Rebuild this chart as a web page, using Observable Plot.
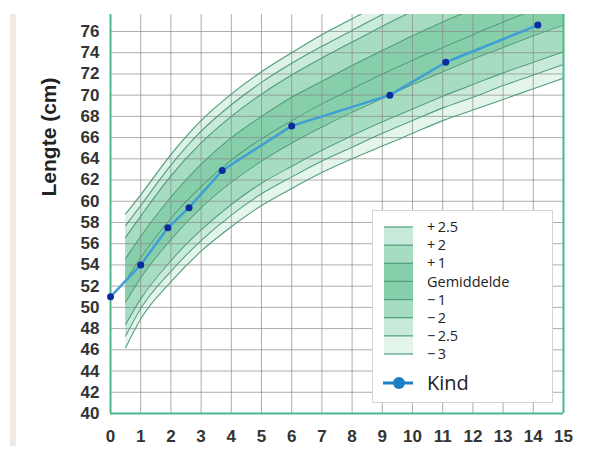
<!DOCTYPE html>
<html>
<head>
<meta charset="utf-8">
<script src="https://cdn.jsdelivr.net/npm/d3@7"></script>
<script src="https://cdn.jsdelivr.net/npm/@observablehq/plot@0.6"></script>
<style>
  html, body { margin: 0; padding: 0; background: #fff; }
  #wrap { position: relative; width: 602px; height: 450px; overflow: hidden; background: #fff; }
  #stripe { position: absolute; left: 10px; top: 14px; width: 6px; height: 432px; background: #efeae6; }
  #ytitle { position: absolute; left: 49px; top: 137px; transform: translate(-50%, -50%) rotate(-90deg);
            font: bold 21px "Liberation Sans", Arial, sans-serif; color: #222; white-space: nowrap; }
  #legend { position: absolute; left: 372px; top: 210px; width: 181px; height: 193px; background: #fff;
            border: 1px solid #d4d4d4; box-sizing: border-box; }
</style>
</head>
<body>
<div id="wrap">
  <div id="chart"></div>
  <div id="stripe"></div>
  <div id="ytitle">Lengte (cm)</div>
  <div id="legend"></div>
</div>
<script>
// ---- data ----
const months = [0.5, 1, 2, 3, 4, 5, 6, 7, 8, 9, 10, 11, 12, 13, 14, 15];
const sdMin3  = [46.2, 48.9, 52.4, 55.3, 57.6, 59.6, 61.2, 62.7, 64.0, 65.2, 66.4, 67.6, 68.6, 69.6, 70.6, 71.6];
const sdMin25 = [47.3, 49.9, 53.4, 56.3, 58.7, 60.7, 62.3, 63.8, 65.1, 66.4, 67.6, 68.8, 69.8, 70.9, 71.9, 72.9];
const sdMin2  = [48.4, 50.8, 54.4, 57.3, 59.7, 61.7, 63.3, 64.8, 66.2, 67.5, 68.7, 69.9, 71.0, 72.1, 73.1, 74.1];
const sdMin1  = [50.5, 52.8, 56.4, 59.4, 61.8, 63.8, 65.5, 67.0, 68.4, 69.7, 71.0, 72.2, 73.4, 74.5, 75.6, 76.6];
const sdMean  = [52.5, 54.7, 58.4, 61.4, 63.9, 65.9, 67.6, 69.2, 70.6, 72.0, 73.3, 74.5, 75.7, 76.9, 78.0, 79.1];
const sdPlus1 = [54.6, 56.7, 60.4, 63.5, 66.0, 68.0, 69.8, 71.3, 72.8, 74.2, 75.6, 76.9, 78.1, 79.3, 80.5, 81.7];
const sdPlus2 = [56.6, 58.6, 62.4, 65.5, 68.0, 70.1, 71.9, 73.5, 75.0, 76.5, 77.9, 79.2, 80.5, 81.8, 83.0, 84.2];
const sdPlus25= [57.7, 59.6, 63.4, 66.6, 69.1, 71.2, 73.0, 74.6, 76.1, 77.6, 79.0, 80.4, 81.7, 83.0, 84.3, 85.5];
const sdPlus3 = [58.8, 60.6, 64.4, 67.6, 70.1, 72.2, 74.0, 75.7, 77.2, 78.7, 80.1, 81.5, 82.9, 84.2, 85.5, 86.7];

const childAge    = [0, 1, 1.9, 2.6, 3.7, 6, 9.25, 11.1, 14.15];
const childLength = [51, 54, 57.5, 59.4, 62.9, 67.1, 70.0, 73.1, 76.6];

const xTicks = d3.range(0, 16);
const yTicks = d3.range(40, 78, 2);

const legendLabels = ["+\u20092.5", "+\u20092", "+\u20091", "Gemiddelde", "\u2212\u20091", "\u2212\u20092", "\u2212\u20092.5", "\u2212\u20093"];
const legendFills  = ["#c8eada", "#a6dcc0", "#86cfaa", "#86cfaa", "#a6dcc0", "#c8eada", "#e4f5ec"];
const legendKind = "Kind";

// ---- build ----
const levels = [sdMin3, sdMin25, sdMin2, sdMin1, sdMean, sdPlus1, sdPlus2, sdPlus25, sdPlus3];
const bandFills = ["#e4f5ec", "#c8eada", "#a6dcc0", "#86cfaa", "#86cfaa", "#a6dcc0", "#c8eada", "#dff2e8"];
const lineColor = "#4f9d7a";
const frameColor = "#4cb88c";

const bandMarks = [];
for (let i = 0; i < levels.length - 1; i++) {
  const lo = levels[i], hi = levels[i + 1];
  const rows = months.map((m, j) => ({m, lo: lo[j], hi: hi[j]}));
  bandMarks.push(Plot.areaY(rows, {x: "m", y1: "lo", y2: "hi", fill: bandFills[i], curve: "monotone-x", clip: true}));
}
const lineMarks = levels.map(lv =>
  Plot.line(months.map((m, j) => ({m, v: lv[j]})), {x: "m", y: "v", stroke: lineColor, strokeWidth: 1.1, curve: "monotone-x", clip: true})
);
const child = childAge.map((a, i) => ({a, l: childLength[i]}));

const chart = Plot.plot({
  width: 602, height: 450,
  marginTop: 14, marginBottom: 37, marginLeft: 110, marginRight: 39,
  x: {domain: [0, 15], ticks: xTicks, tickSize: 0, tickPadding: 16, label: null, tickFormat: d => String(d)},
  y: {domain: [40, 77.6], ticks: yTicks, tickSize: 0, tickPadding: 11, label: null},
  style: {fontFamily: '"Liberation Sans", Arial, sans-serif', fontSize: "17px", fontWeight: "bold", color: "#333", background: "transparent", overflow: "visible"},
  marks: [
    ...bandMarks,
    Plot.ruleX(xTicks, {stroke: "#8a8a8a", strokeOpacity: 0.7, strokeWidth: 1}),
    Plot.ruleY(yTicks, {stroke: "#8a8a8a", strokeOpacity: 0.7, strokeWidth: 1}),
    ...lineMarks,
    Plot.ruleX([0, 15], {stroke: frameColor, strokeWidth: 2}),
    Plot.ruleY([40], {stroke: frameColor, strokeWidth: 2}),
    Plot.line(child, {x: "a", y: "l", stroke: "#3d9fd6", strokeWidth: 2.5}),
    Plot.dot(child, {x: "a", y: "l", r: 3.5, fill: "#0b2c9e", stroke: "none"})
  ]
});
document.getElementById("chart").appendChild(chart);

// ---- legend ----
const lg = d3.select("#legend").append("svg").attr("width", 181).attr("height", 193)
  .style("position", "absolute").style("left", "-1px").style("top", "-1px");
const ly = d3.scaleLinear().domain([0, legendLabels.length - 1]).range([17, 144]);
legendFills.forEach((f, i) => {
  lg.append("rect").attr("x", 12).attr("width", 29).attr("y", ly(i)).attr("height", ly(i + 1) - ly(i)).attr("fill", f);
});
legendLabels.forEach((t, i) => {
  lg.append("line").attr("x1", 12).attr("x2", 41).attr("y1", ly(i)).attr("y2", ly(i)).attr("stroke", lineColor).attr("stroke-width", 1.2);
  lg.append("text").attr("x", 55).attr("y", ly(i)).attr("dy", "0.35em").text(t)
    .style("font", '14.5px "Open Sans", sans-serif').attr("fill", "#222");
});
lg.append("line").attr("x1", 11).attr("x2", 41).attr("y1", 173).attr("y2", 173).attr("stroke", "#1f7fc4").attr("stroke-width", 3);
lg.append("circle").attr("cx", 27).attr("cy", 173).attr("r", 6).attr("fill", "#1f7fc4");
lg.append("text").attr("x", 55).attr("y", 173).attr("dy", "0.36em").text(legendKind)
  .style("font", '20px "Open Sans", sans-serif').attr("fill", "#222");
</script>
</body>
</html>
